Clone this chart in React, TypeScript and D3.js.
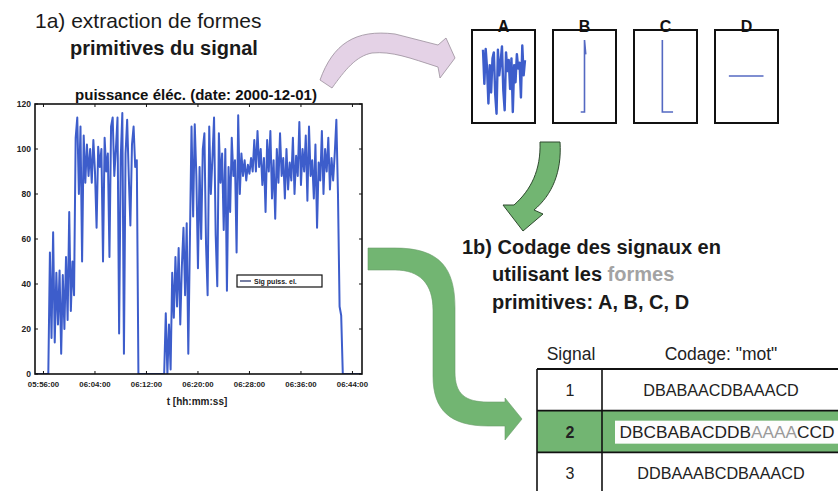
import React from 'react';
import * as d3 from 'd3';

const W = 838;
const H = 491;

// ---- data ----
const signalDate = '2000-12-01';
const signalStartTime = '05:54:45';
const sampleStepSeconds = 15;
const signalValues = [
  0, 0, 0, 0, 0, 0, 0, 0, 0,
  54, 16, 63, 14, 45, 22, 46, 9, 44, 20, 52, 24, 72, 28, 50, 35,
  105, 114, 80, 110, 50, 106, 85, 102, 88, 100, 85, 104, 90, 65, 101, 92, 100, 50, 105, 90,
  98, 52, 110, 114, 88, 100, 114, 18, 96, 116, 9, 98, 113, 88, 66, 102, 110, 92, 95,
  0, 0, 0, 0, 0, 0, 0, 0, 0, 0, 0, 0, 0, 0, 0, 0, 0,
  27, 0, 22, 2,
  45, 25, 52, 30, 56, 22, 48, 65, 35, 67, 9, 60,
  110, 70, 111, 88, 47, 92, 60, 100, 107, 58, 35, 110, 80, 96, 114, 62, 39, 107, 85, 98,
  64, 100, 37, 92, 72, 105, 88, 95, 54, 115, 80, 98,
  88, 95, 86, 93, 89, 96, 90,
  104, 90, 108, 92, 100, 84, 96, 72, 104, 90, 108, 78, 95, 69, 100, 85, 107, 88, 96, 78,
  100, 82, 94, 86, 105, 80, 97, 88, 112, 84, 100, 90, 106, 77, 110, 88, 95, 78, 102, 65,
  94, 86, 108, 80, 100, 90, 105, 82, 96, 86, 98, 113, 80,
  30, 26,
  0, 0, 0, 0, 0, 0, 0, 0, 0, 0, 0, 0, 0,
];
const xDomainTimes = ['05:54:41', '06:45:29'];
const xTickLabels = ['05:56:00', '06:04:00', '06:12:00', '06:20:00', '06:28:00', '06:36:00', '06:44:00'];
const yTickValues = [0, 20, 40, 60, 80, 100, 120];
const chartTitle = 'puissance éléc. (date: 2000-12-01)';
const xAxisLabel = 't [hh:mm:ss]';
const legendLabel = 'Sig puiss. el.';

const primitiveLabels = ['A', 'B', 'C', 'D'];
const primitiveASlice = [97, 129];
const primitiveBX = [0.44, 0.5, 0.5, 0.52, 0.51];
const primitiveBY = [0, 0, 1, 0.8, 0.84];
const primitiveCX = [0.45, 0.45, 0.62];
const primitiveCY = [1, 0, 0];
const primitiveDX = [0.22, 0.77];
const primitiveDY = [0.5, 0.5];

const tableHeaders = ['Signal', 'Codage: "mot"'];
const tableSignals = ['1', '2', '3'];
const tableCodes = ['DBABAACDBAAACD', 'DBCBABACDDBAAAACCD', 'DDBAAABCDBAAACD'];
const highlightRow = 1;

const FONT = '"Liberation Sans", Arial, Helvetica, sans-serif';
const BLUE = '#3d5dcb';
const GREEN = '#72b572';

const parse = d3.timeParse('%Y-%m-%d %H:%M:%S');

export default function App() {
  const plot = { x0: 35, x1: 362, y0: 104, y1: 374 };
  const xScale = d3
    .scaleTime()
    .domain(xDomainTimes.map((t) => parse(`${signalDate} ${t}`) as Date))
    .range([plot.x0, plot.x1]);
  const yScale = d3.scaleLinear().domain([0, 120]).range([plot.y1, plot.y0]);
  const start = (parse(`${signalDate} ${signalStartTime}`) as Date).getTime();
  const line = d3
    .line<number>()
    .x((_, i) => xScale(new Date(start + i * sampleStepSeconds * 1000)))
    .y((d) => yScale(d));
  const tickDates = xTickLabels.map((t) => parse(`${signalDate} ${t}`) as Date);

  // primitive boxes
  const boxX = d3.scaleLinear().domain([0, 3]).range([472, 715]);
  const boxW = 63;
  const boxTop = 30;
  const boxH = 93;
  const primSeries = [
    null,
    { xs: primitiveBX, ys: primitiveBY },
    { xs: primitiveCX, ys: primitiveCY },
    { xs: primitiveDX, ys: primitiveDY },
  ];
  const sliceA = signalValues.slice(primitiveASlice[0], primitiveASlice[1]);
  const ax = d3.scaleLinear().domain([0, sliceA.length - 1]).range([boxX(0) + 11, boxX(0) + 53]);
  const ay = d3.scaleLinear().domain([30, 118]).range([boxTop + 88, boxTop + 13]);
  const lineA = d3
    .line<number>()
    .x((_, i) => ax(i))
    .y((d) => ay(d));

  // table
  const tableLeft = 537;
  const tableDiv = 602;
  const tableRight = 850;
  const rowY = d3.scaleLinear().domain([0, 3]).range([369, 494]);

  const pinkArrow =
    'M320,80 C333,44 355,29 395,34 L438,45 L446,38 L455,58 L440,78 L438,67 C410,58 392,51 372,53 C356,56 345,70 332,88 Z';
  const greenArrowSmall =
    'M540,142 L560,142 C562,172 552,195 534,210 L543,214 L523,231 L503,205 L514,205 C531,190 541,170 540,142 Z';
  const greenArrowBig =
    'M368,248 L395,248 C440,248 455,268 455,308 L455,372 C455,394 465,402 488,402 L505,402 L505,398 L522,419 L505,440 L505,426 L488,426 C450,426 433,410 433,376 L433,310 C433,284 420,270 395,270 L368,270 Z';

  return (
    <svg width={W} height={H} style={{ position: 'absolute', left: 0, top: 0, background: '#fff' }} fontFamily={FONT}>
      <rect x={0} y={0} width={W} height={H} fill="#fff" />

      {/* heading 1a */}
      <text x={35} y={28} fontSize={21} fill="#1a1a1a">1a) extraction de formes</text>
      <text x={70} y={55} fontSize={20} fontWeight="bold" fill="#1a1a1a">primitives du signal</text>

      {/* arrows */}
      <path d={pinkArrow} fill="#e4d2e6" stroke="#9a8f9c" strokeWidth={0.8} />
      <path d={greenArrowSmall} fill={GREEN} stroke="#2f4a2f" strokeWidth={1} />
      <path d={greenArrowBig} fill={GREEN} stroke="#6a9c6a" strokeWidth={0.6} />

      {/* main chart */}
      <text x={196} y={100} fontSize={15} fontWeight="bold" textAnchor="middle" fill="#111">{chartTitle}</text>
      <rect x={plot.x0} y={plot.y0} width={plot.x1 - plot.x0} height={plot.y1 - plot.y0} fill="#fff" />
      <clipPath id="plotclip">
        <rect x={plot.x0} y={plot.y0 - 2} width={plot.x1 - plot.x0} height={plot.y1 - plot.y0 + 2} />
      </clipPath>
      <path d={line(signalValues) || ''} fill="none" stroke={BLUE} strokeWidth={2} strokeLinejoin="round" clipPath="url(#plotclip)" />
      {yTickValues.map((v) => (
        <g key={`y${v}`}>
          <line x1={plot.x0} x2={plot.x0 + 3} y1={yScale(v)} y2={yScale(v)} stroke="#111" strokeWidth={1} />
          <line x1={plot.x1} x2={plot.x1 - 3} y1={yScale(v)} y2={yScale(v)} stroke="#111" strokeWidth={1} />
          <text x={plot.x0 - 4} y={yScale(v) + 3} fontSize={8.5} fontWeight="bold" textAnchor="end" fill="#222">{v}</text>
        </g>
      ))}
      {tickDates.map((d, i) => (
        <g key={`x${i}`}>
          <line x1={xScale(d)} x2={xScale(d)} y1={plot.y1} y2={plot.y1 - 3} stroke="#111" strokeWidth={1} />
          <line x1={xScale(d)} x2={xScale(d)} y1={plot.y0} y2={plot.y0 + 3} stroke="#111" strokeWidth={1} />
          <text x={xScale(d)} y={387} fontSize={7.8} fontWeight="bold" textAnchor="middle" fill="#222">{xTickLabels[i]}</text>
        </g>
      ))}
      <rect x={plot.x0} y={plot.y0} width={plot.x1 - plot.x0} height={plot.y1 - plot.y0} fill="none" stroke="#111" strokeWidth={1.6} />
      <text x={197} y={405} fontSize={10} fontWeight="bold" textAnchor="middle" fill="#222">{xAxisLabel}</text>
      {/* legend */}
      <rect x={237} y={275} width={85} height={12} fill="#fff" stroke="#111" strokeWidth={1.2} />
      <line x1={240} x2={251} y1={281} y2={281} stroke="#1d2a66" strokeWidth={1.2} />
      <text x={254} y={284} fontSize={7} fontWeight="bold" fill="#222">{legendLabel}</text>

      {/* primitive boxes */}
      {primitiveLabels.map((lab, i) => {
        const bx = boxX(i);
        const sx = d3.scaleLinear().domain([0, 1]).range([bx, bx + boxW]);
        const sy = d3.scaleLinear().domain([0, 1]).range([boxTop + boxH - 11, boxTop + 10]);
        const s = primSeries[i];
        const pl = s
          ? d3
              .line<number>()
              .x((d) => sx(d))
              .y((_, j) => sy(s.ys[j]))(s.xs)
          : null;
        return (
          <g key={lab}>
            <rect x={bx} y={boxTop} width={boxW} height={boxH} fill="#fff" stroke="#111" strokeWidth={2} />
            {i === 0 ? (
              <path d={lineA(sliceA) || ''} fill="none" stroke={BLUE} strokeWidth={2.4} strokeLinejoin="round" />
            ) : (
              <path d={pl || ''} fill="none" stroke="#5469c2" strokeWidth={1.6} />
            )}
            <text x={bx + boxW / 2} y={32} fontSize={16} fontWeight="bold" textAnchor="middle" fill="#111">{lab}</text>
          </g>
        );
      })}

      {/* heading 1b */}
      <text x={462} y={254} fontSize={20} fontWeight="bold" fill="#1a1a1a">1b) Codage des signaux en</text>
      <text x={492} y={281} fontSize={20} fontWeight="bold" fill="#1a1a1a">
        utilisant les <tspan fill="#a3a3a3">formes</tspan>
      </text>
      <text x={492} y={309} fontSize={20} fontWeight="bold" fill="#1a1a1a">primitives: A, B, C, D</text>

      {/* table */}
      <text x={571} y={360} fontSize={17.5} textAnchor="middle" fill="#222">{tableHeaders[0]}</text>
      <text x={721} y={360} fontSize={17.5} textAnchor="middle" fill="#222">{tableHeaders[1]}</text>
      <rect x={tableLeft} y={rowY(highlightRow)} width={tableRight - tableLeft} height={rowY(highlightRow + 1) - rowY(highlightRow)} fill={GREEN} />
      <rect x={615} y={rowY(highlightRow) + 10} width={230} height={23} fill="#fdfdfd" />
      {tableSignals.map((s, i) => {
        const cy = (rowY(i) + rowY(i + 1)) / 2;
        const hl = i === highlightRow;
        return (
          <g key={s}>
            <text x={570} y={cy + 6} fontSize={16} fontWeight={hl ? 'bold' : 'normal'} textAnchor="middle" fill="#222">{s}</text>
            {hl ? (
              <text x={727} y={cy + 6} fontSize={17.3} textAnchor="middle" fill="#222">
                {tableCodes[i].slice(0, 11)}
                <tspan fill="#9a9a9a">{tableCodes[i].slice(11, 15)}</tspan>
                {tableCodes[i].slice(15)}
              </text>
            ) : (
              <text x={721} y={cy + 6} fontSize={16.2} textAnchor="middle" fill="#222">{tableCodes[i]}</text>
            )}
          </g>
        );
      })}
      {[0, 1, 2].map((i) => (
        <line key={`h${i}`} x1={tableLeft} x2={tableRight} y1={rowY(i)} y2={rowY(i)} stroke="#111" strokeWidth={i === 0 ? 2 : 1.8} />
      ))}
      <line x1={tableLeft} x2={tableLeft} y1={rowY(0)} y2={H} stroke="#111" strokeWidth={1.6} />
      <line x1={tableDiv} x2={tableDiv} y1={rowY(0)} y2={H} stroke="#111" strokeWidth={1.6} />
    </svg>
  );
}
